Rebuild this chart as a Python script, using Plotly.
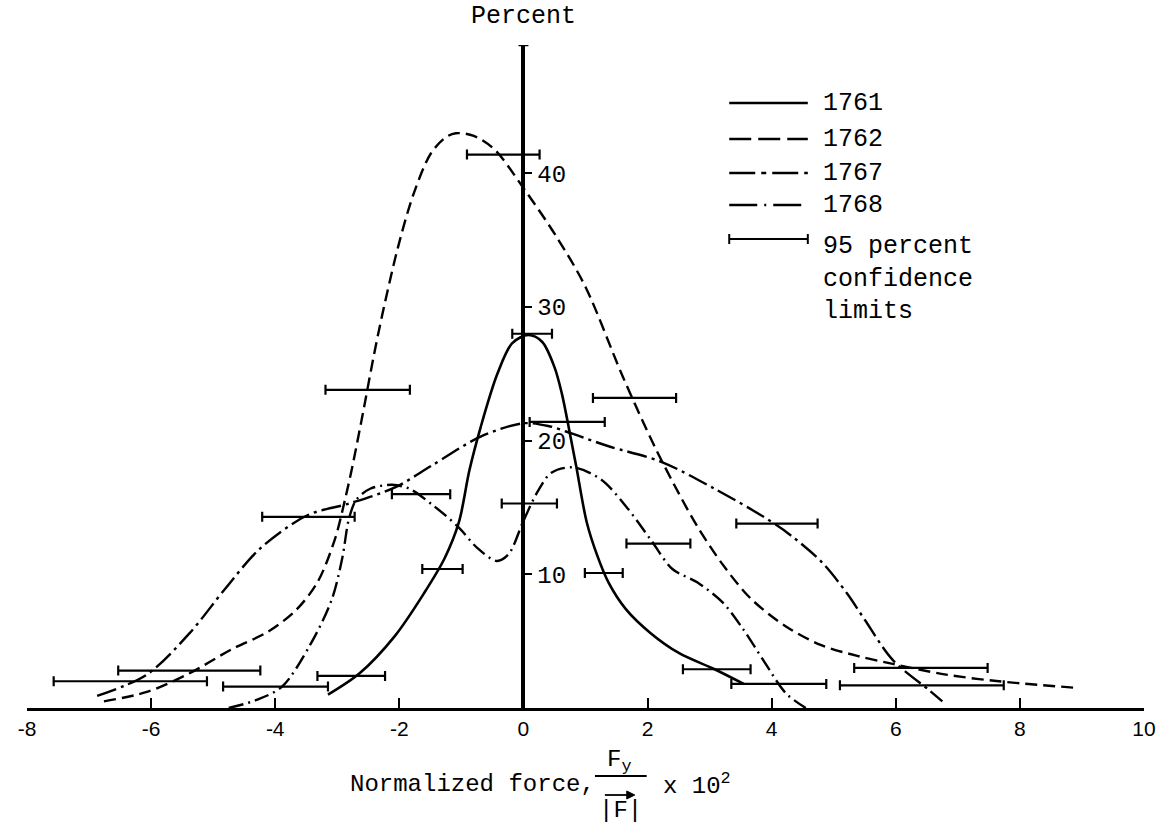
import plotly.graph_objects as go

# ---------------- data ----------------
x_1761 = [-3.15, -2.64, -2.07, -1.60, -1.27, -1.04, -0.87, -0.69, -0.42, -0.18, 0.08, 0.30, 0.50,
          0.62, 0.75, 0.85, 1.02, 1.19, 1.37, 1.65, 2.05, 2.51, 3.08, 3.55]
y_1761 = [1.0, 2.6, 5.4, 8.6, 11.2, 13.9, 17.8, 21.0, 25.0, 27.3, 27.9, 27.4, 25.5,
          23.5, 20.5, 18.1, 13.9, 11.4, 9.4, 7.4, 5.6, 4.1, 2.9, 1.8]

x_1762 = [-6.76, -6.07, -5.38, -4.70, -4.12, -3.67, -3.32, -3.04, -2.87, -2.76, -2.61, -2.34, -2.02,
          -1.76, -1.49, -1.25, -1.09, -0.80, -0.47, 0.0, 0.54, 1.00, 1.60, 2.11, 2.51, 2.80, 3.20,
          3.66, 4.23, 4.80, 5.38, 5.95, 6.81, 7.66, 8.93]
y_1762 = [0.5, 1.2, 2.6, 4.4, 5.7, 7.3, 9.4, 12.6, 15.7, 18.0, 21.5, 28.0, 34.5,
          38.6, 41.5, 42.7, 43.0, 42.8, 41.8, 38.9, 35.2, 31.5, 24.8, 19.6, 16.0, 13.6, 10.8,
          8.2, 6.1, 4.7, 3.9, 3.3, 2.5, 2.0, 1.5]

x_1767 = [-6.87, -6.07, -5.38, -4.81, -4.25, -3.49, -2.81, -2.07, -1.49, -0.69, 0.0, 0.40, 0.80,
          1.36, 2.23, 3.08, 3.94, 4.34, 4.81, 5.21, 5.50, 5.95, 6.52, 6.75]
y_1767 = [0.9, 2.5, 5.6, 8.9, 11.9, 14.4, 15.3, 16.5, 18.1, 20.3, 21.3, 21.1, 20.5,
          19.6, 18.4, 16.4, 14.1, 12.8, 10.9, 8.6, 6.6, 3.6, 1.4, 0.5]

x_1768 = [-4.75, -4.30, -3.89, -3.44, -3.09, -2.92, -2.81, -2.69, -2.47, -2.12, -1.84, -1.44, -1.04,
          -0.75, -0.43, -0.24, 0.0, 0.23, 0.45, 0.80, 1.25, 1.65, 2.05, 2.40, 2.80, 3.21, 3.54,
          3.89, 4.23, 4.55]
y_1768 = [0.0, 0.6, 1.6, 4.7, 8.1, 11.2, 14.2, 15.6, 16.4, 16.7, 16.4, 15.1, 13.5,
          12.0, 11.0, 11.5, 14.0, 16.2, 17.6, 18.0, 17.1, 15.1, 12.6, 10.4, 9.4, 7.9, 5.9,
          3.4, 1.1, 0.0]

# 95 percent confidence limits: lower x, upper x, level
ci_lo = [-0.91, -0.18, 0.10, -3.19, 1.12, -2.12, -4.21, -0.35, 3.43, 1.66, -1.63, 0.99,
         -6.53, -7.57, -3.32, -4.84, 2.57, 3.35, 5.33, 5.10]
ci_hi = [0.26, 0.46, 1.31, -1.83, 2.46, -1.18, -2.72, 0.54, 4.74, 2.69, -0.98, 1.60,
         -4.24, -5.10, -2.23, -3.15, 3.66, 4.88, 7.48, 7.74]
ci_y = [41.4, 28.0, 21.4, 23.8, 23.2, 16.0, 14.3, 15.3, 13.8, 12.3, 10.4, 10.1,
        2.8, 2.0, 2.4, 1.6, 2.9, 1.8, 3.0, 1.7]

x_ticks = [-8, -6, -4, -2, 0, 2, 4, 6, 8, 10]
x_tick_labels = ["-8", "-6", "-4", "-2", "0", "2", "4", "6", "8", "10"]
y_ticks = [10, 20, 30, 40]
y_tick_labels = ["10", "20", "30", "40"]

series_names = ["1761", "1762", "1767", "1768"]
ci_label = "95 percent<br>confidence<br>limits"

# ---------------- layout geometry ----------------
W, H = 1168, 835
ML, MR, MT, MB = 27, 18, 45, 127
PW, PH = W - ML - MR, H - MT - MB
X_MIN, X_MAX = -8, 10
Y_MIN, Y_MAX = 0, 49.6


def px(xpix):
    return (xpix - ML) / PW


def py(ypix):
    return (H - MB - ypix) / PH


MONO = "Liberation Mono"
SANS = "Liberation Sans"
BLACK = "black"

dash_1762 = "12px,6px"
dash_1767 = "20px,5px,3px,5px"
dash_1768 = "15px,5px,2px,5px"

fig = go.Figure()

curves = [
    (x_1761, y_1761, "solid", 2.6),
    (x_1762, y_1762, dash_1762, 2.4),
    (x_1767, y_1767, dash_1767, 2.4),
    (x_1768, y_1768, dash_1768, 2.4),
]
for (xs, ys, dash, w), name in zip(curves, series_names):
    fig.add_trace(go.Scatter(
        x=xs, y=ys, mode="lines", name=name, showlegend=False, hoverinfo="skip",
        line=dict(color=BLACK, width=w, dash=dash, shape="spline", smoothing=0.9),
    ))

ci_mid = [(a + b) / 2 for a, b in zip(ci_lo, ci_hi)]
ci_half = [(b - a) / 2 for a, b in zip(ci_lo, ci_hi)]
fig.add_trace(go.Scatter(
    x=ci_mid, y=ci_y, mode="markers", showlegend=False, hoverinfo="skip",
    marker=dict(size=2, color="rgba(0,0,0,0)"),
    error_x=dict(type="data", array=ci_half, symmetric=True, color=BLACK,
                 thickness=2.2, width=5),
))

shapes = []
annotations = []

# top cap of vertical axis
shapes.append(dict(type="line", xref="x", yref="y", x0=-0.08, x1=0.08, y0=Y_MAX, y1=Y_MAX,
                   line=dict(color=BLACK, width=2.5)))

# legend
leg_x0, leg_x1, leg_tx = 733, 812, 825
leg_rows = [103, 139, 173, 205]
leg_dash = ["solid", "22px,7px", "26px,6px,5px,6px", "28px,7px,2px,7px"]
for row, dash, name in zip(leg_rows, leg_dash, series_names):
    shapes.append(dict(type="line", xref="paper", yref="paper", x0=px(leg_x0), x1=px(leg_x1),
                       y0=py(row), y1=py(row), line=dict(color=BLACK, width=2.4, dash=dash)))
    annotations.append(dict(xref="paper", yref="paper", x=px(leg_tx), y=py(row), text=name,
                            showarrow=False, xanchor="left", yanchor="middle",
                            font=dict(family=MONO, size=25, color=BLACK)))
ci_row = 239
shapes.append(dict(type="line", xref="paper", yref="paper", x0=px(leg_x0), x1=px(leg_x1),
                   y0=py(ci_row), y1=py(ci_row), line=dict(color=BLACK, width=2)))
for xe in (leg_x0, leg_x1):
    shapes.append(dict(type="line", xref="paper", yref="paper", x0=px(xe), x1=px(xe),
                       y0=py(ci_row - 5), y1=py(ci_row + 5), line=dict(color=BLACK, width=2)))
annotations.append(dict(xref="paper", yref="paper", x=px(leg_tx), y=py(230), text=ci_label,
                        showarrow=False, xanchor="left", yanchor="top", align="left",
                        font=dict(family=MONO, size=25, color=BLACK)))

# y axis title
annotations.append(dict(xref="x", yref="paper", x=0, y=py(17), text="Percent", showarrow=False,
                        xanchor="center", yanchor="middle",
                        font=dict(family=MONO, size=25, color=BLACK)))

# x axis title: Normalized force, Fy/|F| x 10^2
title_font = dict(family=MONO, size=24, color=BLACK)
annotations.append(dict(xref="paper", yref="paper", x=px(350), y=py(784), text="Normalized force,",
                        showarrow=False, xanchor="left", yanchor="middle", font=title_font))
annotations.append(dict(xref="paper", yref="paper", x=px(622), y=py(761), text="F<sub>y</sub>",
                        showarrow=False, xanchor="center", yanchor="middle", font=title_font))
shapes.append(dict(type="line", xref="paper", yref="paper", x0=px(598), x1=px(650),
                   y0=py(776), y1=py(776), line=dict(color=BLACK, width=2)))
annotations.append(dict(xref="paper", yref="paper", x=px(624), y=py(811), text="|F|",
                        showarrow=False, xanchor="center", yanchor="middle", font=title_font))
# vector arrow over F
shapes.append(dict(type="line", xref="paper", yref="paper", x0=px(608), x1=px(636),
                   y0=py(795), y1=py(795), line=dict(color=BLACK, width=1.8)))
shapes.append(dict(type="path", xref="paper", yref="paper",
                   path="M {:.5f},{:.5f} L {:.5f},{:.5f} L {:.5f},{:.5f} Z".format(
                       px(638), py(795), px(630), py(791), px(630), py(799)),
                   fillcolor=BLACK, line=dict(color=BLACK, width=1)))
annotations.append(dict(xref="paper", yref="paper", x=px(664), y=py(784), text="x 10<sup>2</sup>",
                        showarrow=False, xanchor="left", yanchor="middle", font=title_font))

fig.update_layout(
    width=W, height=H,
    margin=dict(l=ML, r=MR, t=MT, b=MB),
    paper_bgcolor="white", plot_bgcolor="white",
    showlegend=False,
    shapes=shapes, annotations=annotations,
    xaxis=dict(range=[X_MIN, X_MAX], showgrid=False, zeroline=False, showline=True,
               linecolor=BLACK, linewidth=2.6, ticks="inside", ticklen=10, tickwidth=2,
               tickcolor=BLACK, tickvals=x_ticks, ticktext=x_tick_labels,
               tickfont=dict(family=SANS, size=21, color=BLACK)),
    yaxis=dict(range=[Y_MIN, Y_MAX], showgrid=False, zeroline=False, showline=True,
               anchor="free", position=(0 - X_MIN) / (X_MAX - X_MIN), side="right",
               linecolor=BLACK, linewidth=4, ticks="outside", ticklen=7, tickwidth=2,
               tickcolor=BLACK, tickvals=y_ticks, ticktext=y_tick_labels,
               tickfont=dict(family=MONO, size=24, color=BLACK)),
)

fig.write_html("out.html")
